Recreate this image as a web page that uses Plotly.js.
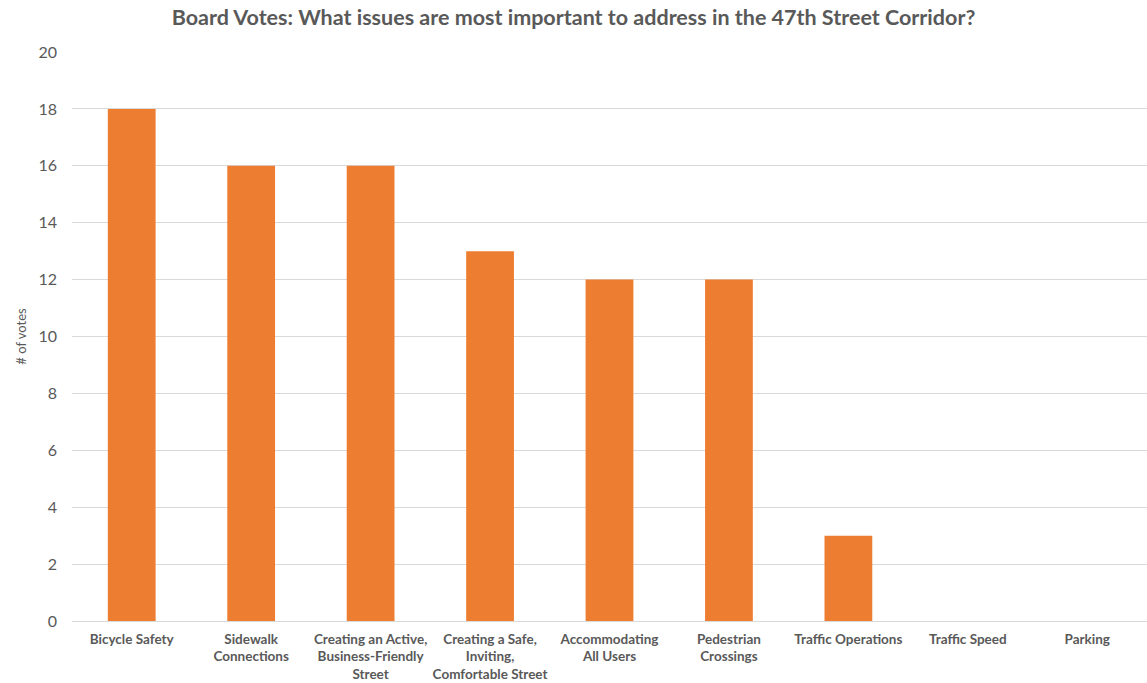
<!DOCTYPE html>
<html>
<head>
<meta charset="utf-8">
<script src="https://cdn.plot.ly/plotly-3.0.1.min.js"></script>
<style>html,body{margin:0;padding:0;background:#fff;}#chart{width:1147px;height:683px;}</style>
</head>
<body>
<div id="chart"></div>
<script>
const categories = [
  "Bicycle Safety",
  "Sidewalk<br>Connections",
  "Creating an Active,<br>Business-Friendly<br>Street",
  "Creating a Safe,<br>Inviting,<br>Comfortable Street",
  "Accommodating<br>All Users",
  "Pedestrian<br>Crossings",
  "Traffic Operations",
  "Traffic Speed",
  "Parking"
];
const votes = [18, 16, 16, 13, 12, 12, 3, 0, 0];
const yTicks = [0, 2, 4, 6, 8, 10, 12, 14, 16, 18, 20];

const trace = {
  type: 'bar',
  x: categories,
  y: votes,
  marker: {color: '#ED7D31'},
  width: 0.4,
  hoverinfo: 'x+y'
};

const layout = {
  width: 1147,
  height: 683,
  margin: {l: 72, r: 0, t: 52, b: 62},
  paper_bgcolor: '#ffffff',
  plot_bgcolor: '#ffffff',
  showlegend: false,
  title: {
    text: '<b>Board Votes: What issues are most important to address in the 47th Street Corridor?</b>',
    font: {family: 'Lato, "Open Sans", sans-serif', size: 21.5, color: '#595959'},
    x: 0.5, xanchor: 'center', y: 0.975, yanchor: 'middle'
  },
  xaxis: {
    type: 'category',
    tickfont: {family: 'Lato, "Open Sans", sans-serif', size: 13.5, color: '#595959', weight: 'bold'},
    showgrid: false,
    showline: false,
    ticks: '',
    ticklabelstandoff: 8,
    automargin: false,
    tickangle: 0
  },
  yaxis: {
    range: [0, 20],
    tickvals: yTicks,
    ticktext: yTicks.map(String),
    tickfont: {family: 'Lato, "Open Sans", sans-serif', size: 16, color: '#595959'},
    gridcolor: '#d9d9d9',
    gridwidth: 1,
    zeroline: true,
    zerolinecolor: '#d9d9d9',
    zerolinewidth: 1,
    showline: false,
    ticks: '',
    ticklen: 0,
    ticklabelstandoff: 14,
    automargin: false,
    title: {
      text: '# of votes',
      font: {family: 'Lato, "Open Sans", sans-serif', size: 13, color: '#595959'},
      standoff: 8
    }
  }
};

Plotly.newPlot('chart', [trace], layout, {displayModeBar: false, staticPlot: true});
</script>
</body>
</html>
